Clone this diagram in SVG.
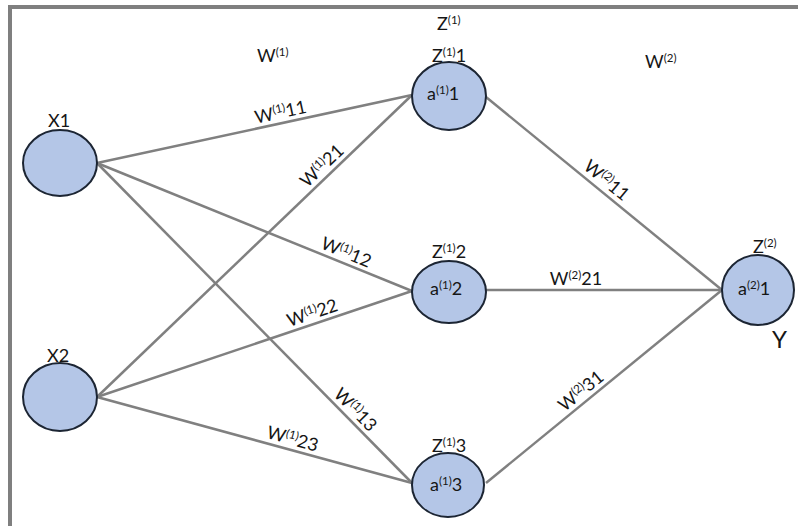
<svg xmlns="http://www.w3.org/2000/svg" width="798" height="526" viewBox="0 0 798 526">
  <style>
    text { font-family: Lato, "Liberation Sans", sans-serif; fill: #161616; font-size: 18px; }
    .sup { font-size: 11.5px; }
    .node { fill: #b4c6e7; stroke: #1c2533; stroke-width: 2; }
    .edge { stroke: #808080; stroke-width: 2.5; fill: none; }
    .lbl { text-anchor: middle; }
  </style>

  <rect width="798" height="526" fill="#ffffff"/>
  <!-- frame -->
  <path d="M10,526 V7 H798" fill="none" stroke="#7f7f7f" stroke-width="4"/>

  <!-- layer captions -->
  <text x="257" y="62">W<tspan class="sup" dy="-6">(1)</tspan></text>
  <text x="437" y="30">Z<tspan class="sup" dy="-6">(1)</tspan></text>
  <text x="645" y="68">W<tspan class="sup" dy="-6">(2)</tspan></text>

  <g id="connectors">
    <line class="edge" x1="97" y1="163" x2="412" y2="95"/>
    <line class="edge" x1="97" y1="163" x2="412" y2="291"/>
    <line class="edge" x1="97" y1="163" x2="412" y2="483"/>
    <line class="edge" x1="97" y1="397" x2="412" y2="95"/>
    <line class="edge" x1="97" y1="397" x2="412" y2="291"/>
    <line class="edge" x1="97" y1="397" x2="412" y2="483"/>
    <line class="edge" x1="486" y1="97" x2="722" y2="290"/>
    <line class="edge" x1="486" y1="290" x2="722" y2="290"/>
    <line class="edge" x1="486" y1="483" x2="722" y2="290"/>

    <!-- weight labels -->
    <text class="lbl" transform="translate(283,123) rotate(-12.2)" dy="-5">W<tspan class="sup" dy="-6">(1)</tspan><tspan dy="6">11</tspan></text>
    <text class="lbl" transform="translate(329.5,173.8) rotate(-43.8)" dy="-5">W<tspan class="sup" dy="-6">(1)</tspan><tspan dy="6">21</tspan></text>
    <text class="lbl" transform="translate(342,262.6) rotate(22.1)" dy="-5">W<tspan class="sup" dy="-6">(1)</tspan><tspan dy="6">12</tspan></text>
    <text class="lbl" transform="translate(315.8,323.4) rotate(-18.6)" dy="-5">W<tspan class="sup" dy="-6">(1)</tspan><tspan dy="6">22</tspan></text>
    <text class="lbl" transform="translate(347.5,417.5) rotate(45.5)" dy="-5">W<tspan class="sup" dy="-6">(1)</tspan><tspan dy="6">13</tspan></text>
    <text class="lbl" transform="translate(289.7,449.6) rotate(15.3)" dy="-5">W<tspan class="sup" dy="-6">(1)</tspan><tspan dy="6">23</tspan></text>
    <text class="lbl" transform="translate(599.6,188.9) rotate(39.6)" dy="-5">W<tspan class="sup" dy="-6">(2)</tspan><tspan dy="6">11</tspan></text>
    <text class="lbl" transform="translate(576,290)" dy="-5">W<tspan class="sup" dy="-6">(2)</tspan><tspan dy="6">21</tspan></text>
    <text class="lbl" transform="translate(587.9,399.6) rotate(-39.3)" dy="-5">W<tspan class="sup" dy="-6">(2)</tspan><tspan dy="6">31</tspan></text>
  </g>

  <g id="x1">
    <ellipse class="node" cx="60" cy="163" rx="37" ry="33"/>
    <text x="48" y="127">X1</text>
  </g>
  <g id="x2">
    <ellipse class="node" cx="60" cy="397" rx="37" ry="34"/>
    <text x="47" y="362">X2</text>
  </g>

  <g id="h1">
    <ellipse class="node" cx="449" cy="96" rx="37" ry="34"/>
    <text x="432" y="62">Z<tspan class="sup" dy="-6">(1)</tspan><tspan dy="6">1</tspan></text>
    <text x="427" y="100">a<tspan class="sup" dy="-6">(1)</tspan><tspan dy="6">1</tspan></text>
  </g>
  <g id="h2">
    <ellipse class="node" cx="449" cy="292" rx="37" ry="31"/>
    <text x="432" y="258">Z<tspan class="sup" dy="-6">(1)</tspan><tspan dy="6">2</tspan></text>
    <text x="430" y="295">a<tspan class="sup" dy="-6">(1)</tspan><tspan dy="6">2</tspan></text>
  </g>
  <g id="h3">
    <ellipse class="node" cx="448" cy="485" rx="36" ry="32"/>
    <text x="432" y="452">Z<tspan class="sup" dy="-6">(1)</tspan><tspan dy="6">3</tspan></text>
    <text x="430" y="491">a<tspan class="sup" dy="-6">(1)</tspan><tspan dy="6">3</tspan></text>
  </g>

  <g id="out">
    <ellipse class="node" cx="758" cy="290" rx="36" ry="35"/>
    <text x="753" y="253">Z<tspan class="sup" dy="-6">(2)</tspan></text>
    <text x="738" y="295">a<tspan class="sup" dy="-6">(2)</tspan><tspan dy="6">1</tspan></text>
    <text x="772" y="348" style="font-size:24px">Y</text>
  </g>
</svg>
